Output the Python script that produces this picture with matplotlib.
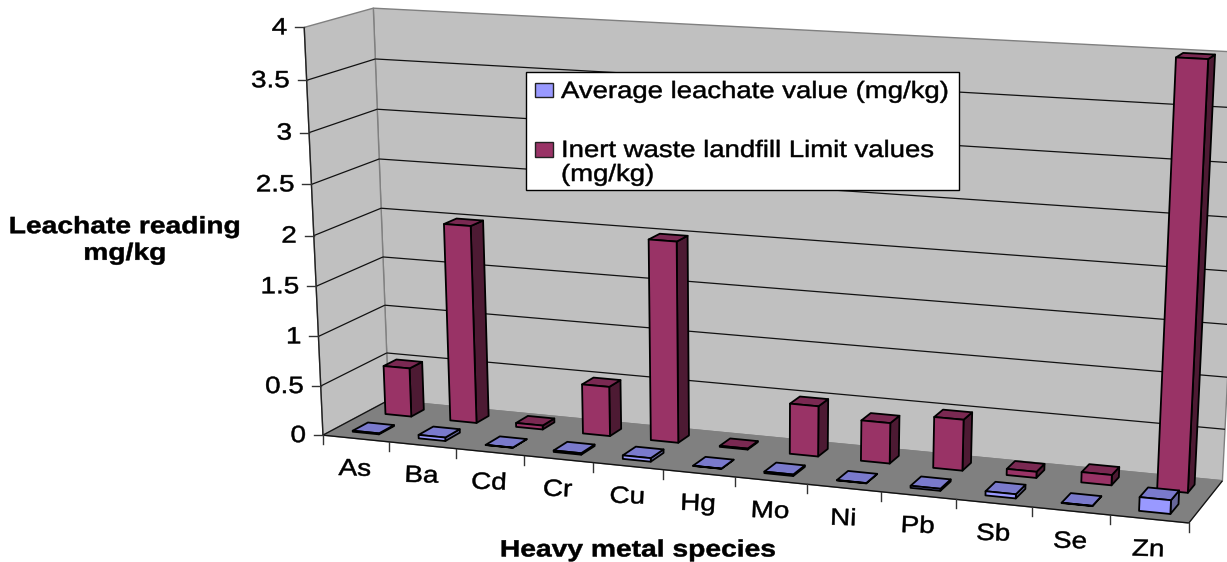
import numpy as np
import matplotlib
matplotlib.use("Agg")
import matplotlib.pyplot as plt
from matplotlib.patches import Polygon, Rectangle
from matplotlib.patheffects import AbstractPathEffect
from matplotlib.transforms import Affine2D

species = ["As", "Ba", "Cd", "Cr", "Cu", "Hg", "Mo", "Ni", "Pb", "Sb", "Se", "Zn"]
average_leachate = [0.01, 0.035, 0.002, 0.015, 0.035, 0.002, 0.015, 0.003, 0.02, 0.04, 0.003, 0.13]
inert_limit = [0.5, 2, 0.04, 0.5, 2, 0.01, 0.5, 0.4, 0.5, 0.06, 0.1, 4]
value_ticks = [0, 0.5, 1, 1.5, 2, 2.5, 3, 3.5, 4]
value_labels = ["0", "0.5", "1", "1.5", "2", "2.5", "3", "3.5", "4"]
series_names = ["Average leachate value (mg/kg)",
                "Inert waste landfill Limit values\n(mg/kg)"]
y_title = "Leachate reading\nmg/kg"
x_title = "Heavy metal species"

plt.rcParams["font.family"] = ["Liberation Sans", "DejaVu Sans"]

# Camera calibration: (category pos, value, depth) -> picture pixel
calib = [
    ((0, 0, 0), (323, 435)), ((0, 4, 0), (303, 28)), ((0, 4, 1), (374, 8)),
    ((0, 0, 1), (386, 401)), ((12, 0, 0), (1189, 523)), ((12, 0, 1), (1222, 482)),
    ((0, 2, 0), (314, 236)), ((0, 2, 1), (382, 208)),
    ((11.3, 0, .65), (1157, 490)), ((11.7, 0, .65), (1188, 492)),
    ((11.3, 4, .65), (1176, 57)), ((11.7, 4, .65), (1208, 59)),
    ((1.3, 2, .65), (444, 224)), ((1.3, 0, .65), (452, 420)), ((1.7, 0, .65), (477, 422)),
]
A, b = [], []
for (X, Y, Z), (u, v) in calib:
    A.append([X, Y, Z, 1, 0, 0, 0, 0, -u * X, -u * Y, -u * Z]); b.append(u)
    A.append([0, 0, 0, 0, X, Y, Z, 1, -v * X, -v * Y, -v * Z]); b.append(v)
m = np.linalg.lstsq(np.array(A, float), np.array(b, float), rcond=None)[0]
P = np.append(m, 1).reshape(3, 4)


def pr(x, y, z):
    h = P @ np.array([x, y, z, 1.0])
    return h[0] / h[2], h[1] / h[2]


class WideText(AbstractPathEffect):
    """Draws the text glyphs stretched horizontally about an anchor x (pixels)."""

    def __init__(self, cx, sx, weight=0.35):
        super().__init__()
        self.cx, self.sx, self.weight = cx, sx, weight

    def draw_path(self, renderer, gc, tpath, affine, rgbFace=None):
        aff = affine + Affine2D().translate(-self.cx, 0).scale(self.sx, 1).translate(self.cx, 0)
        gc0 = renderer.new_gc()
        gc0.copy_properties(gc)
        gc0.set_linewidth(self.weight)
        gc0.set_foreground("black")
        renderer.draw_path(gc0, tpath, aff, rgbFace)
        gc0.restore()


fig = plt.figure(figsize=(12.27, 5.62), dpi=100)
ax = fig.add_axes([0, 0, 1, 1])
ax.set_xlim(0, 1227)
ax.set_ylim(562, 0)
ax.axis("off")

n = len(species)
top = value_ticks[-1]
FS = 17
SX = 1.18


def label(x, y, s, ha="center", size=FS, sx=SX, **kw):
    ax.text(x, y, s, ha=ha, va="center", fontsize=size, color="black",
            path_effects=[WideText(x, sx)], **kw)


def quad(pts, fc, ec="#000000", lw=1.3, zo=2):
    ax.add_patch(Polygon([pr(*p) for p in pts], closed=True, facecolor=fc,
                         edgecolor=ec, linewidth=lw, zorder=zo, joinstyle="round"))


def line(p, q, color="#000000", lw=1.0, zo=2):
    a, c = pr(*p), pr(*q)
    ax.plot([a[0], c[0]], [a[1], c[1]], color=color, lw=lw, zorder=zo,
            solid_capstyle="butt")


# walls and floor
quad([(0, 0, 1), (n, 0, 1), (n, top, 1), (0, top, 1)], "#C0C0C0", "#808080", 1.0, 1)
quad([(0, 0, 0), (0, 0, 1), (0, top, 1), (0, top, 0)], "#C0C0C0", "#808080", 1.0, 1)
quad([(0, 0, 0), (n, 0, 0), (n, 0, 1), (0, 0, 1)], "#808080", "#808080", 1.0, 1)
for v in value_ticks[1:-1]:
    line((0, v, 0), (0, v, 1), "#111111", 0.9, 1.5)
    line((0, v, 1), (n, v, 1), "#111111", 0.9, 1.5)
line((0, 0, 0), (0, 0, 1), "#111111", 0.9, 1.5)
line((n, 0, 0), (n, 0, 1), "#111111", 0.9, 1.5)

# axes lines
line((0, 0, 0), (0, top, 0), "#222222", 1.0, 1.6)
line((0, 0, 0), (n, 0, 0), "#111111", 1.0, 1.6)
for v, lab in zip(value_ticks, value_labels):
    x0, y0 = pr(0, v, 0)
    ax.plot([x0 - 9, x0], [y0, y0], color="#333333", lw=1.0, zorder=1.6)
    label(x0 - 17, y0 + 1, lab, ha="right")
for i in range(n + 1):
    x0, y0 = pr(i, 0, 0)
    ax.plot([x0, x0], [y0, y0 + 9], color="#333333", lw=1.0, zorder=1.6)
for i, name in enumerate(species):
    x0, y0 = pr(i + 0.5, 0, 0)
    label(x0 - 1, y0 + 31, name, rotation=-2, rotation_mode="anchor")


def bar(i, value, z0, z1, front, topc, side, zo):
    x0, x1 = i + 0.3, i + 0.7
    quad([(x1, 0, z0), (x1, 0, z1), (x1, value, z1), (x1, value, z0)], side, zo=zo)
    quad([(x0, value, z0), (x1, value, z0), (x1, value, z1), (x0, value, z1)], topc, zo=zo)
    quad([(x0, 0, z0), (x1, 0, z0), (x1, value, z0), (x0, value, z0)], front, zo=zo)


for i, value in enumerate(inert_limit):
    bar(i, value, 0.65, 0.85, "#993366", "#7A2952", "#4D1A33", 3 + i * 0.01)
for i, value in enumerate(average_leachate):
    bar(i, value, 0.15, 0.38, "#9999FF", "#7A7ACC", "#666699", 4 + i * 0.01)

# legend
ax.add_patch(Rectangle((526, 72), 433, 118, facecolor="white", edgecolor="black", lw=1.0, zorder=6))
ax.add_patch(Rectangle((535, 83), 18, 14, facecolor="#9999FF", edgecolor="#222222", lw=1.0, zorder=7))
ax.add_patch(Rectangle((535, 142), 18, 15, facecolor="#993366", edgecolor="#222222", lw=1.0, zorder=7))
label(561, 92, series_names[0], ha="left", sx=1.165, zorder=7)
label(561, 163, series_names[1], ha="left", sx=1.165, zorder=7, linespacing=1.12)

# axis titles
label(125, 240, y_title, fontweight="bold", linespacing=1.2, sx=1.195)
label(638, 550, x_title, fontweight="bold", sx=1.195)

fig.savefig("out.png", dpi=100)
